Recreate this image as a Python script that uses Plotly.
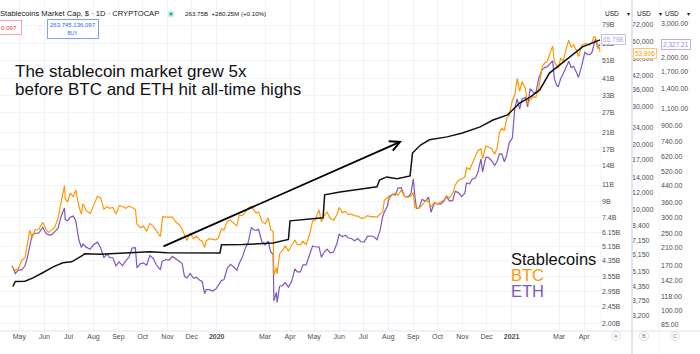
import math
import plotly.graph_objects as go

# ---------------- data ----------------
stable_dates = [
    "2019-04-23", "2019-04-26", "2019-05-08", "2019-05-18", "2019-05-30", "2019-06-12",
    "2019-06-24", "2019-07-05", "2019-07-18", "2019-07-21", "2019-08-09", "2019-08-30",
    "2019-09-19", "2019-10-10", "2019-10-31", "2019-12-11", "2020-01-05", "2020-01-07",
    "2020-02-02", "2020-03-11", "2020-03-27", "2020-03-30", "2020-04-01", "2020-05-12",
    "2020-05-14", "2020-06-02", "2020-07-18", "2020-07-21", "2020-07-30", "2020-08-12",
    "2020-08-28", "2020-08-31", "2020-09-10", "2020-09-21", "2020-10-13", "2020-11-01",
    "2020-11-23", "2020-12-09", "2020-12-27", "2021-01-11", "2021-01-24", "2021-02-05",
    "2021-02-17", "2021-03-10", "2021-03-30", "2021-04-21",
]
stable_cap_b = [
    3.15, 3.35, 3.36, 3.50, 3.73, 4.01,
    4.22, 4.27, 4.60, 4.71, 4.68, 4.72,
    4.77, 4.83, 4.78, 4.77, 4.76, 5.27,
    5.28, 5.38, 5.55, 5.62, 7.07, 7.34,
    9.74, 10.1, 10.75, 11.7, 12.15, 11.9,
    12.3, 16.3, 18.0, 19.2, 19.9, 20.9,
    22.5, 24.5, 26.1, 30.2, 32.5, 35.5,
    43.7, 51.3, 60.3, 65.79,
]

price_dates = [
    "2019-04-22", "2019-04-26", "2019-04-30",
    "2019-05-04", "2019-05-08", "2019-05-11", "2019-05-14", "2019-05-17", "2019-05-20", "2019-05-25", "2019-05-30",
    "2019-06-03", "2019-06-06", "2019-06-10", "2019-06-14", "2019-06-18", "2019-06-22", "2019-06-26", "2019-06-27", "2019-06-30",
    "2019-07-03", "2019-07-07", "2019-07-10", "2019-07-14", "2019-07-17", "2019-07-19", "2019-07-23", "2019-07-28",
    "2019-08-01", "2019-08-06", "2019-08-10", "2019-08-14", "2019-08-18", "2019-08-21", "2019-08-25", "2019-08-29",
    "2019-09-02", "2019-09-06", "2019-09-10", "2019-09-14", "2019-09-18", "2019-09-22", "2019-09-24", "2019-09-28",
    "2019-10-02", "2019-10-06", "2019-10-10", "2019-10-14", "2019-10-18", "2019-10-23", "2019-10-25", "2019-10-26", "2019-10-30",
    "2019-11-03", "2019-11-07", "2019-11-11", "2019-11-15", "2019-11-19", "2019-11-22", "2019-11-25", "2019-11-29",
    "2019-12-03", "2019-12-07", "2019-12-11", "2019-12-14", "2019-12-17", "2019-12-19", "2019-12-23", "2019-12-27", "2019-12-31",
    "2020-01-03", "2020-01-07", "2020-01-10", "2020-01-14", "2020-01-18", "2020-01-22", "2020-01-26", "2020-01-29",
    "2020-02-02", "2020-02-06", "2020-02-09", "2020-02-13", "2020-02-16", "2020-02-19", "2020-02-22", "2020-02-26",
    "2020-03-01", "2020-03-05", "2020-03-08", "2020-03-11", "2020-03-12", "2020-03-15", "2020-03-16", "2020-03-19", "2020-03-23", "2020-03-26", "2020-03-30",
    "2020-04-03", "2020-04-07", "2020-04-10", "2020-04-14", "2020-04-17", "2020-04-21", "2020-04-25", "2020-04-29",
    "2020-05-02", "2020-05-07", "2020-05-10", "2020-05-13", "2020-05-17", "2020-05-21", "2020-05-25", "2020-05-29",
    "2020-06-01", "2020-06-05", "2020-06-09", "2020-06-12", "2020-06-16", "2020-06-20", "2020-06-24", "2020-06-28",
    "2020-07-02", "2020-07-06", "2020-07-10", "2020-07-14", "2020-07-18", "2020-07-22", "2020-07-25", "2020-07-27", "2020-07-31",
    "2020-08-02", "2020-08-06", "2020-08-10", "2020-08-13", "2020-08-17", "2020-08-21", "2020-08-25", "2020-08-29",
    "2020-09-01", "2020-09-03", "2020-09-05", "2020-09-08", "2020-09-12", "2020-09-16", "2020-09-20", "2020-09-23", "2020-09-27",
    "2020-10-01", "2020-10-05", "2020-10-09", "2020-10-12", "2020-10-16", "2020-10-20", "2020-10-23", "2020-10-27", "2020-10-31",
    "2020-11-04", "2020-11-06", "2020-11-10", "2020-11-13", "2020-11-17", "2020-11-20", "2020-11-24", "2020-11-26", "2020-11-30",
    "2020-12-03", "2020-12-07", "2020-12-11", "2020-12-14", "2020-12-17", "2020-12-20", "2020-12-23", "2020-12-26", "2020-12-29",
    "2021-01-02", "2021-01-05", "2021-01-08", "2021-01-11", "2021-01-14", "2021-01-18", "2021-01-21", "2021-01-24", "2021-01-28", "2021-01-31",
    "2021-02-04", "2021-02-08", "2021-02-11", "2021-02-14", "2021-02-17", "2021-02-21", "2021-02-23", "2021-02-26", "2021-02-28",
    "2021-03-03", "2021-03-06", "2021-03-10", "2021-03-13", "2021-03-16", "2021-03-19", "2021-03-23", "2021-03-25", "2021-03-29",
    "2021-04-02", "2021-04-05", "2021-04-08", "2021-04-11", "2021-04-13", "2021-04-15", "2021-04-17", "2021-04-18", "2021-04-20", "2021-04-21",
]
btc_close = [
    5400, 5200, 5320,
    5800, 5950, 7000, 8000, 7350, 8000, 8050, 8700,
    8100, 7800, 8000, 8250, 9100, 10700, 12900, 11200, 10800,
    11900, 11450, 12300, 10300, 9500, 10600, 9850, 9550,
    10400, 11500, 11300, 10000, 10300, 10100, 10200, 9500,
    10400, 10300, 10100, 10350, 10200, 10000, 8550, 8200,
    8350, 7900, 8600, 8350, 7950, 7450, 8650, 9250, 9200,
    9200, 9200, 8750, 8500, 8100, 7600, 7150, 7750,
    7300, 7500, 7200, 7100, 6650, 7150, 7300, 7250, 7200,
    7350, 8150, 8000, 8800, 8900, 8650, 8350, 9400,
    9350, 9750, 10150, 10300, 9900, 9600, 9700, 8800,
    8550, 9100, 8050, 7900, 4950, 5350, 5000, 6200, 6450, 6750, 6400,
    6750, 7200, 6850, 6850, 7100, 6850, 7550, 8800,
    8900, 9950, 8750, 9300, 9700, 9050, 8900, 9400,
    10200, 9650, 9800, 9450, 9500, 9350, 9300, 9100,
    9100, 9350, 9250, 9250, 9170, 9550, 9700, 11000, 11350,
    11100, 11750, 11900, 11600, 12300, 11500, 11350, 11500,
    11950, 10200, 10150, 10100, 10450, 10950, 10900, 10250, 10750,
    10600, 10800, 11050, 11550, 11300, 11900, 12950, 13650, 13800,
    14150, 15600, 15300, 16300, 17650, 18700, 19150, 17150, 19700,
    19450, 19200, 18050, 19250, 22800, 23850, 23250, 26450, 27350,
    32200, 34000, 40600, 35500, 39200, 36600, 30800, 32300, 33400, 33100,
    36900, 46200, 47900, 48700, 52100, 57500, 48800, 46300, 45200,
    50500, 48900, 56000, 61200, 56800, 58300, 54300, 51300, 57700,
    59000, 58700, 58100, 60000, 63500, 63200, 60000, 56200, 56400, 53806,
]
eth_close = [
    170, 155, 162,
    162, 170, 187, 216, 245, 250, 250, 268,
    250, 245, 245, 255, 265, 307, 337, 293, 290,
    302, 307, 290, 230, 211, 220, 212, 207,
    218, 225, 210, 187, 196, 187, 187, 170,
    178, 170, 180, 188, 210, 211, 166, 174,
    176, 171, 192, 186, 172, 162, 178, 180, 183,
    182, 190, 184, 180, 175, 150, 147, 155,
    147, 148, 143, 141, 122, 128, 128, 126, 129,
    134, 143, 144, 165, 173, 168, 161, 175,
    189, 212, 223, 268, 260, 259, 262, 226,
    218, 228, 200, 195, 112, 124, 110, 133, 135, 139, 132,
    141, 164, 158, 158, 172, 172, 194, 215,
    213, 212, 188, 199, 207, 198, 200, 220,
    247, 240, 244, 237, 235, 229, 235, 226,
    225, 241, 242, 240, 232, 261, 305, 321, 346,
    387, 396, 394, 427, 430, 388, 384, 400,
    477, 387, 335, 337, 374, 365, 384, 321, 357,
    354, 353, 366, 387, 366, 369, 411, 405, 386,
    402, 454, 450, 475, 482, 511, 604, 518, 615,
    615, 593, 560, 586, 642, 640, 583, 633, 731,
    775, 1100, 1230, 1090, 1230, 1255, 1120, 1390, 1330, 1315,
    1590, 1745, 1785, 1800, 1850, 1935, 1570, 1450, 1420,
    1570, 1660, 1800, 1925, 1790, 1810, 1670, 1590, 1820,
    2140, 2090, 2080, 2150, 2300, 2510, 2330, 2240, 2340, 2327.21,
]

x_tick_dates = [
    "2019-05-01", "2019-06-01", "2019-07-01", "2019-08-01", "2019-09-01", "2019-10-01",
    "2019-11-01", "2019-12-01", "2020-01-01", "2020-03-01", "2020-04-01", "2020-05-01",
    "2020-06-01", "2020-07-01", "2020-08-01", "2020-09-01", "2020-10-01", "2020-11-01",
    "2020-12-01", "2021-01-01", "2021-03-01", "2021-04-01",
]
x_tick_labels = [
    "May", "Jun", "Jul", "Aug", "Sep", "Oct", "Nov", "Dec", "<b>2020</b>", "Mar", "Apr", "May",
    "Jun", "Jul", "Aug", "Sep", "Oct", "Nov", "Dec", "<b>2021</b>", "Mar", "Apr",
]
stable_ticks = [2.00, 2.45, 2.95, 3.55, 4.35, 5.15, 6.15, 7.4, 9, 11, 14, 17, 21, 27, 33, 41, 51, 63, 79]
stable_ticktext = ["2.00B", "2.45B", "2.95B", "3.55B", "4.35B", "5.15B", "6.15B", "7.4B", "9B", "11B",
                   "14B", "17B", "21B", "27B", "33B", "41B", "51B", "63B", "79B"]
btc_ticks = [3200, 3750, 4350, 5150, 6150, 7150, 8400, 10000, 12000, 14000, 17000, 20000, 24000,
             30000, 36000, 42000, 50000, 60000, 72000]
btc_ticktext = ["3,200", "3,750", "4,350", "5,150", "6,150", "7,150", "8,400", "10,000", "12,000",
                "14,000", "17,000", "20,000", "24,000", "30,000", "36,000", "42,000", "50,000",
                "60,000", "72,000"]
eth_ticks = [85, 100, 118, 142, 170, 210, 250, 300, 360, 440, 520, 620, 740, 900, 1100, 1400, 1700,
             2000, 3000]
eth_ticktext = ["85.00", "100.00", "118.00", "142.00", "170.00", "210.00", "250.00", "300.00",
                "360.00", "440.00", "520.00", "620.00", "740.00", "900.00", "1,100.00", "1,400.00",
                "1,700.00", "2,000.00", "3,000.00"]

# ---------------- styling / layout helpers ----------------
W, H = 700, 354
PLOT_B = 331
ORANGE = "#ff9800"
PURPLE = "#7e57c2"
FONT = "Liberation Sans, Arial, sans-serif"
AXF = dict(size=7, color="#4a4d57", family=FONT)


def px(x):
    return x / W


def py(y):
    return 1 - y / PLOT_B


fig = go.Figure()
# ETH on the base axis (drawn first), BTC next, stablecoins on top
fig.add_trace(go.Scatter(x=price_dates, y=eth_close, yaxis="y", mode="lines",
                         line=dict(color=PURPLE, width=1.2), hoverinfo="skip"))
fig.add_trace(go.Scatter(x=price_dates, y=btc_close, yaxis="y2", mode="lines",
                         line=dict(color=ORANGE, width=1.2), hoverinfo="skip"))
fig.add_trace(go.Scatter(x=stable_dates, y=stable_cap_b, yaxis="y3", mode="lines",
                         line=dict(color="#111111", width=1.5), hoverinfo="skip"))

st_range = [math.log10(1.82), math.log10(107.5)]
fig.update_layout(
    width=W, height=H, margin=dict(l=0, r=0, t=0, b=23),
    paper_bgcolor="white", plot_bgcolor="white", showlegend=False,
    xaxis=dict(type="date", domain=[0, 601 / W], range=["2019-04-07", "2021-04-22"],
               tickvals=x_tick_dates, ticktext=x_tick_labels, showgrid=True,
               gridcolor="#f0f3fa", ticks="", tickfont=AXF, zeroline=False, showline=False),
    # C: ETH
    yaxis=dict(type="log", range=[math.log10(78.4), math.log10(3981)], side="right",
               anchor="free", position=660 / W, tickvals=eth_ticks, ticktext=eth_ticktext,
               showgrid=False, ticks="", tickfont=AXF, zeroline=False),
    # B: BTC
    yaxis2=dict(type="log", range=[math.log10(2716), math.log10(94100)], overlaying="y",
                side="right", anchor="free", position=631 / W, tickvals=btc_ticks,
                ticktext=btc_ticktext, showgrid=False, ticks="", tickfont=AXF, zeroline=False),
    # A: stablecoins
    yaxis3=dict(type="log", range=st_range, overlaying="y", side="right", anchor="x",
                tickvals=stable_ticks, ticktext=stable_ticktext, showgrid=True,
                gridcolor="#f0f3fa", ticks="", tickfont=AXF, zeroline=False),
)

shapes = [
    dict(type="line", xref="paper", yref="paper", x0=px(632), x1=px(632), y0=py(354), y1=py(0),
         line=dict(color="#e0e3eb", width=2)),
    dict(type="line", xref="paper", yref="paper", x0=px(659), x1=px(659), y0=py(354), y1=py(0),
         line=dict(color="#f0f3fa", width=1)),
    dict(type="line", xref="paper", yref="paper", x0=0, x1=px(700), y0=py(331), y1=py(331),
         line=dict(color="#e0e3eb", width=1)),
    dict(type="line", xref="paper", yref="paper", x0=px(601), x1=px(601), y0=py(331), y1=py(0),
         line=dict(color="#f0f3fa", width=1)),
    dict(type="circle", xref="paper", yref="paper", x0=px(167.5), x1=px(174.5), y0=py(17.5), y1=py(10.5),
         fillcolor="#c8ece6", line=dict(width=0)),
    dict(type="circle", xref="paper", yref="paper", x0=px(169.5), x1=px(172.5), y0=py(15.5), y1=py(12.5),
         fillcolor="#26a69a", line=dict(width=0)),
]
for cx in (616, 644, 675):
    shapes.append(dict(type="circle", xref="paper", yref="paper", x0=px(cx - 4.5), x1=px(cx + 4.5),
                       y0=py(340.5), y1=py(331.5), line=dict(color="#d1d4dc", width=0.8)))
fig.update_layout(shapes=shapes)


def txt(x, y, s, size, color="#131722", xanchor="left", **kw):
    fig.add_annotation(x=px(x), y=py(y), xref="paper", yref="paper", text=s, showarrow=False,
                       xanchor=xanchor, yanchor="middle", font=dict(size=size, color=color, family=FONT),
                       **kw)


# header
txt(-2, 14, "Stablecoins Market Cap, $ · 1D · CRYPTOCAP", 7.6)
txt(183, 14, "263.75B  +280.25M (+0.10%)", 6.2)
txt(-3, 28, "0,097 ", 6.2, color="#f23645", bordercolor="#f7a1a9", borderwidth=1, borderpad=3,
    bgcolor="white")
txt(37, 28, ":", 6.5, color="#787b86")
txt(73, 28.5, "263,745,136,097<br><span style='font-size:5px'>BUY</span>", 6, color="#2962ff",
    xanchor="center", bordercolor="#7d9cff", borderwidth=1, borderpad=2, bgcolor="white")

# axis headers
for x0 in (603, 635, 663):
    txt(x0, 14, "USD", 6.5, color="#131722")
    txt(x0 + 22, 14, "▾", 6, color="#131722")
for cx, s in ((616, "A"), (644, "B"), (675, "C")):
    txt(cx, 336, s, 5.5, color="#787b86", xanchor="center")

# last-value labels
txt(613.5, 39.5, "65.79B", 6.5, color="#b3a5e6", xanchor="center", bordercolor="#c8bef0",
    borderwidth=1, borderpad=1, bgcolor="white")
txt(645, 54, "53,806", 6.5, color=ORANGE, xanchor="center", bordercolor="#ffc56e",
    borderwidth=1, borderpad=1, bgcolor="white")
txt(675.5, 44.5, "2,327.21", 6.5, color="#9d85d8", xanchor="center", bordercolor="#bfaee8",
    borderwidth=1, borderpad=1, bgcolor="white")

# headline
txt(13, 72, "The stablecoin market grew 5x", 17, color="#111111")
txt(13, 90, "before BTC and ETH hit all-time highs", 17, color="#111111")

# legend text
txt(509, 259, "Stablecoins", 16.5, color="#111111")
txt(509, 275, "BTC", 16.5, color=ORANGE)
txt(509, 291, "ETH", 16.5, color=PURPLE)

# arrow
fig.add_annotation(x=px(402), y=py(141), xref="paper", yref="paper", ax=162 - 402, ay=247 - 141,
                   axref="pixel", ayref="pixel", showarrow=True, arrowhead=5, arrowsize=1.1,
                   arrowwidth=1.8, arrowcolor="#000000", text="")

fig.write_html("out.html")
